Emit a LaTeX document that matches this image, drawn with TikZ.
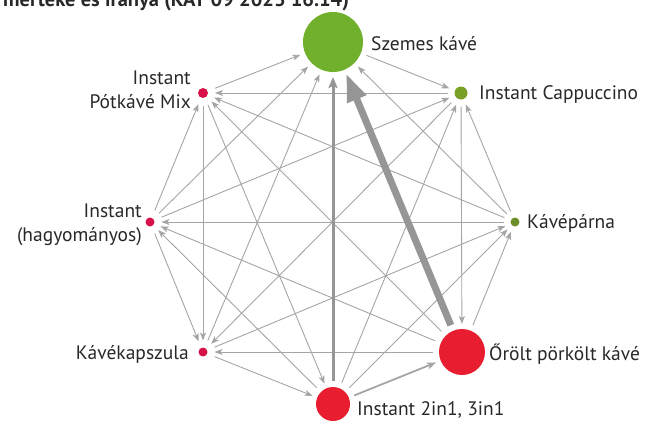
\documentclass[tikz,border=0pt]{standalone}
\usepackage{fontspec}
\setmainfont{PT Sans}
\usetikzlibrary{arrows.meta}
\definecolor{edgegray}{RGB}{165,165,165}
\definecolor{heavygray}{RGB}{150,150,150}
\definecolor{beangreen}{RGB}{112,176,44}
\definecolor{cappgreen}{RGB}{122,160,40}
\definecolor{padolive}{RGB}{110,142,40}
\definecolor{groundred}{RGB}{232,30,48}
\definecolor{smallred}{RGB}{214,18,72}
\definecolor{labeltext}{RGB}{40,40,40}
\begin{document}
\begin{tikzpicture}[x=1pt,y=-1pt,
  dot/.style={circle,inner sep=0pt,draw=none,minimum size=#1},
  lbl/.style={font=\fontsize{19.5}{24}\selectfont,text=labeltext,inner sep=0pt},
  flow/.style={draw=edgegray,line width=0.9pt,
    -{Stealth[length=8pt,width=6pt,inset=2pt]},shorten <=2pt,shorten >=1pt},
]
\useasboundingbox (0,0) rectangle (646,421);

% title line, cut by the top edge
\begin{scope}
\clip (0,0) rectangle (646,421);
\node[anchor=base west,inner sep=0pt,font=\fontsize{20.5}{22}\selectfont\bfseries,text=labeltext]
  at (3,6) {mértéke és iránya (KAT 09 2023 16.14)};
\end{scope}

% product nodes
\node[dot=60pt,fill=beangreen,outer sep=4pt] (A) at (333,42) {};
\node[dot=13pt,fill=cappgreen,outer sep=5pt] (B) at (461,93) {};
\node[dot=9pt,fill=padolive,outer sep=5pt] (C) at (515,222) {};
\node[dot=46pt,fill=groundred,outer sep=4pt] (D) at (462,352) {};
\node[dot=34pt,fill=groundred,outer sep=4pt] (E) at (333,404) {};
\node[dot=9pt,fill=smallred,outer sep=6pt] (F) at (203,352) {};
\node[dot=9pt,fill=smallred,outer sep=6pt] (G) at (150,222) {};
\node[dot=10pt,fill=smallred,outer sep=6pt] (H) at (203,93) {};

% labels
\node[lbl,anchor=west] (lA) at (371,44) {Szemes kávé};
\node[lbl,anchor=west] (lB) at (479,95) {Instant Cappuccino};
\node[lbl,anchor=west] (lC) at (527,223) {Kávépárna};
\node[lbl,anchor=west] (lD) at (489,354) {Őrölt pörkölt kávé};
\node[lbl,anchor=west] (lE) at (357,410) {Instant 2in1, 3in1};
\node[lbl,anchor=east] (lF) at (189,354) {Kávékapszula};
\node[lbl,anchor=east,align=right] (lG) at (142,225) {Instant\\(hagyományos)};
\node[lbl,anchor=east,align=right] (lH) at (191,90) {Instant\\Pótkávé Mix};

% switching flows
\draw[flow] (A) -- (B);
\draw[flow] (C) -- (A);
\draw[flow] (F) -- (A);
\draw[flow] (G) -- (A);
\draw[flow] (H) -- (A);
\draw[flow] (C) -- (B);
\draw[flow] (B) -- (D);
\draw[flow] (E) -- (B);
\draw[flow] (B) -- (F);
\draw[flow] (G) -- (B);
\draw[flow] (B) -- (H);
\draw[flow] (D) -- (C);
\draw[flow] (E) -- (C);
\draw[flow] (F) -- (C);
\draw[flow] (C) -- (G);
\draw[flow] (C) -- (H);
\draw[flow] (D) -- (F);
\draw[flow] (D) -- (G);
\draw[flow] (D) -- (H);
\draw[flow] (F) -- (E);
\draw[flow] (E) -- (G);
\draw[flow] (H) -- (E);
\draw[flow] (G) -- (F);
\draw[flow] (H) -- (F);
\draw[flow] (G) -- (H);
\draw[flow,line width=1.8pt,-{Stealth[length=9pt,width=7pt,inset=2pt]}] (E) -- (D);
\draw[flow,draw=heavygray,line width=3pt,-{Stealth[length=11pt,width=9pt,inset=2pt]}] (E) -- (A);
\draw[draw=heavygray,line width=7pt,-{Triangle[length=28pt,width=19pt]},shorten <=2pt] (D) -- (A);
\end{tikzpicture}
\end{document}
